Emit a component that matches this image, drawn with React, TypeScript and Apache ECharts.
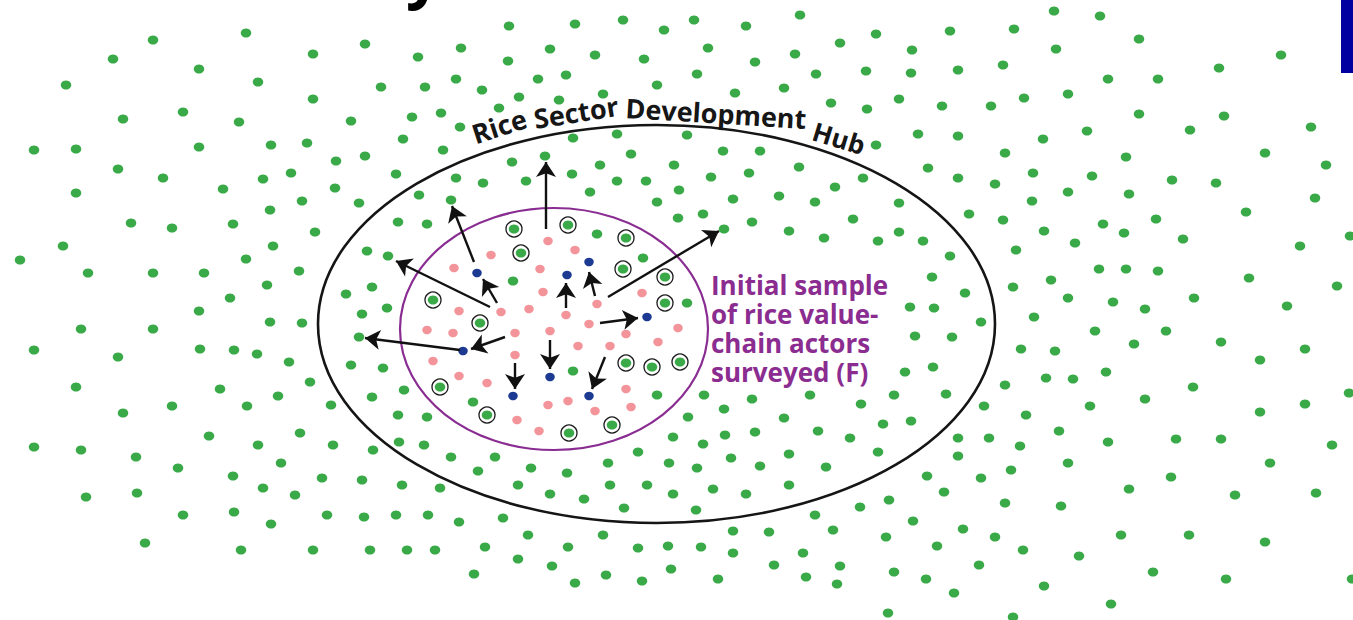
import React, { useEffect, useRef } from "react";
import * as echarts from "echarts";

// Plain green actors (x, y in picture units, y grows downward)
const greenDots: number[][] = [
  [246,33],[153,40],[113,59],[199,69],[66,85],[313,54],[365,44],[418,57],[258,82],[313,99],[381,87],[425,87],
  [123,119],[183,112],[239,122],[351,121],[412,117],[441,113],[34,150],[76,149],[199,147],[271,145],[307,143],
  [403,139],[443,150],[336,161],[365,156],[118,169],[163,178],[223,189],[263,179],[291,173],[396,174],[76,193],
  [335,188],[359,203],[419,195],[451,200],[302,201],[270,210],[131,223],[172,228],[233,224],[315,232],[398,222],
  [427,224],[63,246],[273,246],[367,251],[388,256],[20,260],[246,259],[88,273],[153,273],[204,273],[299,271],
  [267,285],[230,298],[372,287],[346,294],[387,308],[199,311],
  [509,26],[575,24],[623,20],[664,30],[694,20],[746,26],[800,15],[876,34],[840,43],[461,48],[550,49],[595,55],
  [644,59],[708,48],[755,62],[795,54],[508,61],[456,79],[538,79],[566,75],[657,85],[697,74],[816,74],[866,71],
  [482,90],[519,97],[559,100],[603,94],[735,93],[784,88],[831,103],[867,109],[899,99],[499,108],[460,127],
  [573,138],[617,134],[687,135],[876,145],[545,156],[512,162],[631,154],[723,151],[760,151],[456,178],[483,183],
  [526,181],[572,174],[600,165],[617,181],[646,181],[674,165],[711,177],[749,173],[799,167],[863,178],[835,187],
  [590,192],[679,190],[657,202],[733,199],[779,196],[815,202],[899,203],[678,218],[703,214],[752,222],[789,231],
  [824,238],[853,219],[878,241],[899,232],[724,229],
  [597,234],[643,258],[513,281],[687,303],[573,371],[473,402],[657,395],
  [270,322],[302,323],[362,314],[81,329],[153,329],[34,350],[118,357],[200,349],[234,350],[257,354],[289,362],
  [359,337],[351,365],[383,368],[76,387],[220,389],[310,382],[278,396],[372,397],[404,390],[123,413],[172,406],
  [247,406],[331,405],[398,415],[427,417],[209,436],[300,433],[34,447],[81,450],[136,457],[258,445],[333,445],
  [373,450],[399,442],[424,445],[451,457],[178,468],[233,476],[281,463],[322,478],[362,480],[402,485],[440,488],
  [86,497],[137,493],[263,488],[295,495],[183,515],[234,512],[271,524],[327,515],[364,517],[396,515],[428,515],
  [145,543],[241,550],[313,550],[370,550],[407,550],[435,550],
  [704,395],[752,399],[810,395],[861,404],[894,395],[724,409],[688,417],[784,418],[883,424],[673,437],[703,444],
  [725,435],[755,432],[818,431],[850,438],[638,452],[495,457],[608,463],[669,463],[697,468],[731,458],[760,466],
  [789,454],[826,467],[878,452],[478,471],[531,468],[567,473],[518,485],[550,494],[584,499],[610,485],[647,485],
  [673,494],[713,489],[746,494],[789,485],[624,508],[696,510],[459,522],[503,518],[815,515],[860,507],[889,500],
  [528,535],[603,535],[733,531],[769,532],[833,530],[886,537],[485,547],[568,547],[638,548],[668,546],[701,547],
  [733,553],[803,553],[518,559],[552,566],[774,565],[840,566],[474,574],[606,575],[671,569],[806,577],[894,572],
  [575,583],[642,581],[718,579],[837,584],[888,613],
  [1054,11],[1100,16],[950,31],[1014,29],[1139,39],[912,50],[1056,49],[1281,55],[911,73],[958,70],[1003,65],
  [1108,79],[1158,79],[1219,68],[942,106],[991,106],[1024,98],[1068,94],[1139,114],[1224,116],[1311,127],
  [918,134],[958,136],[1043,139],[1087,131],[1190,130],[1005,153],[1126,157],[1265,153],[1326,165],[928,168],
  [958,178],[995,184],[1033,173],[1092,176],[1172,180],[1216,183],[1032,201],[1068,192],[1129,194],[1315,198],
  [969,214],[1003,220],[1044,231],[1103,224],[1124,233],[1156,219],[1246,212],[923,241],[950,256],[1016,250],
  [1075,243],[1183,239],[1300,246],[1350,236],[932,277],[1013,287],[1051,280],[1099,269],[1126,269],[1158,271],
  [1249,278],[1337,286],[965,293],[910,307],[934,308],[1068,298],[1113,302],[1145,309],[1194,298],[1287,306],
  [1034,317],[981,322],[915,336],[952,337],[1095,331],[1166,331],[1134,344],[1221,342],[1305,349],[1021,349],
  [1055,351],[1260,360],[905,372],[933,367],[1046,378],[1073,379],[1106,372],[1005,385],[1193,387],[946,394],
  [1145,399],[1349,393],[984,406],[1090,406],[1260,412],[1305,404],[911,421],[1026,415],[1059,431],[958,438],
  [989,438],[1020,446],[1108,442],[1176,439],[1221,439],[1332,445],[958,456],[1068,463],[1270,463],[927,476],
  [981,478],[1011,470],[1171,477],[1129,489],[944,492],[1235,495],[1316,493],[1005,503],[1061,506],[913,521],
  [963,529],[995,537],[1121,535],[1189,535],[1265,542],[937,546],[1023,550],[1079,556],[979,565],[1153,572],
  [926,579],[1226,579],[1352,579],[1044,586],[954,593],[1111,604],[1013,617]
];

// Green actors surveyed in the initial sample (ringed)
const circledDots: number[][] = [
  [514,229],[568,225],[521,253],[626,238],[623,269],[665,277],[665,303],[433,300],[480,323],
  [626,363],[652,367],[680,362],[440,387],[487,415],[569,433],[612,425]
];

// Pink actors
const pinkDots: number[][] = [
  [548,241],[575,250],[491,255],[454,268],[540,269],[543,292],[642,293],[597,304],[459,311],[501,312],
  [529,309],[566,315],[589,324],[678,328],[427,330],[453,333],[515,333],[550,331],[626,334],[578,346],
  [610,346],[658,342],[515,355],[433,361],[459,376],[487,383],[626,389],[548,405],[568,401],[595,411],
  [631,407],[517,420],[539,431]
];

// Blue actors (referred contacts)
const blueDots: number[][] = [
  [477,273],[567,275],[589,262],[647,317],[463,351],[550,377],[513,396],[589,396]
];

// Referral arrows: [fromX, fromY, toX, toY]
const arrows: number[][] = [
  [546,229,546,162],[474,262,452,206],[490,307,396,261],[497,303,483,279],[505,337,471,349],
  [460,350,365,338],[566,308,566,283],[595,296,589,272],[608,297,719,231],[600,323,638,318],
  [550,340,550,369],[515,363,515,389],[605,357,592,389]
];

const hubEllipse = { cx: 656.5, cy: 324, rx: 338.5, ry: 199 };
const sampleEllipse = { cx: 554, cy: 329, rx: 154, ry: 121 };

const hubWords = [
  { text: "Rice", x: 499, y: 126, rot: 18, size: 27 },
  { text: "Sector", x: 576, y: 112, rot: 9, size: 27 },
  { text: "Development", x: 716, y: 113, rot: -3.5, size: 27 },
  { text: "Hub", x: 839, y: 138, rot: -17, size: 26 }
];

const sampleLines = ["Initial sample", "of rice value-", "chain actors", "surveyed (F)"];

export default function App() {
  const ref = useRef<HTMLDivElement>(null);
  useEffect(() => {
    const chart = echarts.init(ref.current!, null, { renderer: "svg" });
    chart.setOption({
      animation: false,
      backgroundColor: "#ffffff",
      grid: { left: 0, right: 0, top: 0, bottom: 0 },
      xAxis: { type: "value", min: 0, max: 1353, show: false },
      yAxis: { type: "value", min: 0, max: 620, inverse: true, show: false },
      series: [
        {
          type: "scatter", data: greenDots, symbol: "circle", symbolSize: [10.5, 9],
          itemStyle: { color: "#3aa948", opacity: 1 }, z: 3
        },
        {
          type: "scatter", data: circledDots, symbol: "circle", symbolSize: 16,
          itemStyle: { color: "#ffffff", borderColor: "#1a1a1a", borderWidth: 1.3, opacity: 1 }, z: 3
        },
        {
          type: "scatter", data: circledDots, symbol: "circle", symbolSize: [10.5, 9],
          itemStyle: { color: "#3aa948", opacity: 1 }, z: 4
        },
        {
          type: "scatter", data: pinkDots, symbol: "circle", symbolSize: [9.5, 8.5],
          itemStyle: { color: "#f3949a", opacity: 1 }, z: 3
        },
        {
          type: "scatter", data: blueDots, symbol: "circle", symbolSize: [9.5, 8.5],
          itemStyle: { color: "#1c3a92", opacity: 1 }, z: 3
        },
        {
          type: "lines", coordinateSystem: "cartesian2d", z: 5,
          data: arrows.map((a) => ({ coords: [[a[0], a[1]], [a[2], a[3]]] })),
          symbol: ["none", "arrow"], symbolSize: 15,
          lineStyle: { color: "#111111", width: 2.4, opacity: 1 }
        }
      ]
    });
    const px = (p: number[]) => chart.convertToPixel({ gridIndex: 0 }, p) as number[];
    const ell = (e: any, stroke: string, lw: number) => {
      const c = px([e.cx, e.cy]);
      const r = px([e.cx + e.rx, e.cy + e.ry]);
      return {
        type: "ellipse", z: 1,
        shape: { cx: c[0], cy: c[1], rx: Math.abs(r[0] - c[0]), ry: Math.abs(r[1] - c[1]) },
        style: { fill: "none", stroke, lineWidth: lw }
      };
    };
    const words = hubWords.map((w) => {
      const p = px([w.x, w.y]);
      return {
        type: "text", z: 100, x: p[0], y: p[1], rotation: (w.rot * Math.PI) / 180,
        style: {
          text: w.text, fill: "#161616", font: `bold ${w.size}px 'Open Sans'`,
          align: "center", verticalAlign: "middle"
        }
      };
    });
    const labels = sampleLines.map((t, i) => {
      const p = px([711, 285 + i * 29]);
      return {
        type: "text", z: 100, x: p[0], y: p[1],
        style: {
          text: t, fill: "#8b2c90", font: "bold 26px 'Open Sans'", lineHeight: 28,
          align: "left", verticalAlign: "middle"
        }
      };
    });
    chart.setOption({
      graphic: [
        ell(hubEllipse, "#151515", 2.6),
        ell(sampleEllipse, "#8a2d92", 2.2),
        ...words,
        ...labels,
        {
          type: "text", z: 100, x: 406, y: -28,
          style: { text: "y", fill: "#000000", font: "bold 62px 'Open Sans'", align: "left", verticalAlign: "middle" }
        },
        { type: "rect", z: 100, shape: { x: 1341, y: 0, width: 12, height: 73 }, style: { fill: "#0000a0" } }
      ]
    });
    return () => chart.dispose();
  }, []);
  return (
    <div
      ref={ref}
      style={{ position: "fixed", left: 0, top: 0, width: 1353, height: 620, background: "#ffffff" }}
    />
  );
}
